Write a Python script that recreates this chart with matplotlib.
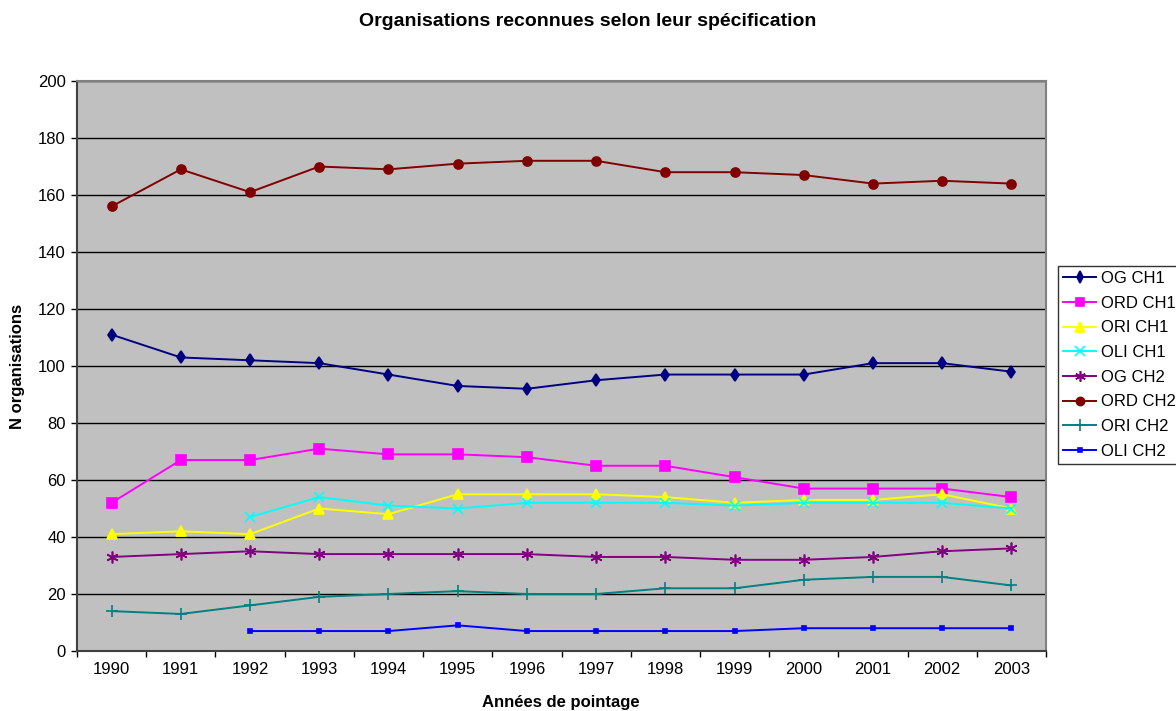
import numpy as np
import matplotlib
matplotlib.use("Agg")
import matplotlib.pyplot as plt

plt.rcParams['font.family'] = ['Liberation Sans', 'DejaVu Sans']

# years of the survey and counts per organisation type / chamber
years = ['1990', '1991', '1992', '1993', '1994', '1995', '1996',
         '1997', '1998', '1999', '2000', '2001', '2002', '2003']
nan = np.nan
og_ch1 = [111, 103, 102, 101, 97, 93, 92, 95, 97, 97, 97, 101, 101, 98]
ord_ch1 = [52, 67, 67, 71, 69, 69, 68, 65, 65, 61, 57, 57, 57, 54]
ori_ch1 = [41, 42, 41, 50, 48, 55, 55, 55, 54, 52, 53, 53, 55, 50]
oli_ch1 = [nan, nan, 47, 54, 51, 50, 52, 52, 52, 51, 52, 52, 52, 50]
og_ch2 = [33, 34, 35, 34, 34, 34, 34, 33, 33, 32, 32, 33, 35, 36]
ord_ch2 = [156, 169, 161, 170, 169, 171, 172, 172, 168, 168, 167, 164, 165, 164]
ori_ch2 = [14, 13, 16, 19, 20, 21, 20, 20, 22, 22, 25, 26, 26, 23]
oli_ch2 = [nan, nan, 7, 7, 7, 9, 7, 7, 7, 7, 8, 8, 8, 8]

series = [
    ('OG CH1', og_ch1, '#000080', 'd', 6.5),
    ('ORD CH1', ord_ch1, '#FF00FF', 's', 6.5),
    ('ORI CH1', ori_ch1, '#FFFF00', '^', 7.5),
    ('OLI CH1', oli_ch1, '#00FFFF', 'x', 7.5),
    ('OG CH2', og_ch2, '#800080', (6, 2, 0), 8.5),
    ('ORD CH2', ord_ch2, '#800000', 'o', 6.5),
    ('ORI CH2', ori_ch2, '#008080', '+', 9),
    ('OLI CH2', oli_ch2, '#0000FF', 's', 3),
]

fig = plt.figure(figsize=(11.76, 7.11), dpi=100)
ax = fig.add_axes([77 / 1176, 60 / 711, 969 / 1176, 570 / 711])
ax.set_facecolor('#C0C0C0')

x = np.arange(len(years))
for name, vals, col, mk, ms in series:
    ax.plot(x, vals, color=col, lw=1.4, marker=mk, ms=ms,
            mec=col, mfc=col, mew=1.2, label=name)

ax.set_ylim(0, 200)
ax.set_yticks(np.arange(0, 201, 20))
ax.yaxis.grid(True, color='black', lw=1)
ax.set_axisbelow(True)

ax.set_xlim(-0.5, len(years) - 0.5)
ax.set_xticks(np.arange(-0.5, len(years)), labels=[''] * (len(years) + 1))
ax.set_xticks(x, labels=years, minor=True)
ax.tick_params(axis='x', which='minor', length=0, pad=8, labelsize=12)
ax.tick_params(axis='x', which='major', direction='out', length=4, width=1)
ax.tick_params(axis='y', direction='out', length=4, width=1, labelsize=12, pad=4)

ax.spines['left'].set_color('#404040')
ax.spines['bottom'].set_color('#404040')
ax.spines['top'].set_color('#808080')
ax.spines['right'].set_color('#808080')
for s in ax.spines.values():
    s.set_linewidth(1.5)

fig.text(0.5, 1 - 22 / 711, 'Organisations reconnues selon leur spécification',
         ha='center', va='center', fontsize=14, fontweight='bold')
fig.text(18 / 1176, 1 - 366 / 711, 'N organisations', rotation=90,
         ha='center', va='center', fontsize=12, fontweight='bold')
fig.text(561 / 1176, 1 - 703 / 711, 'Années de pointage',
         ha='center', va='center', fontsize=12, fontweight='bold')

leg = fig.legend(loc='upper left', bbox_to_anchor=(1058 / 1176, 1 - 266 / 711),
                 fontsize=12, frameon=True, fancybox=False, edgecolor='black',
                 borderpad=0.3, labelspacing=0.58, handlelength=2.0,
                 handletextpad=0.3, borderaxespad=0, markerscale=0.9)
leg.get_frame().set_linewidth(1)

fig.savefig('out.png', dpi=100)
